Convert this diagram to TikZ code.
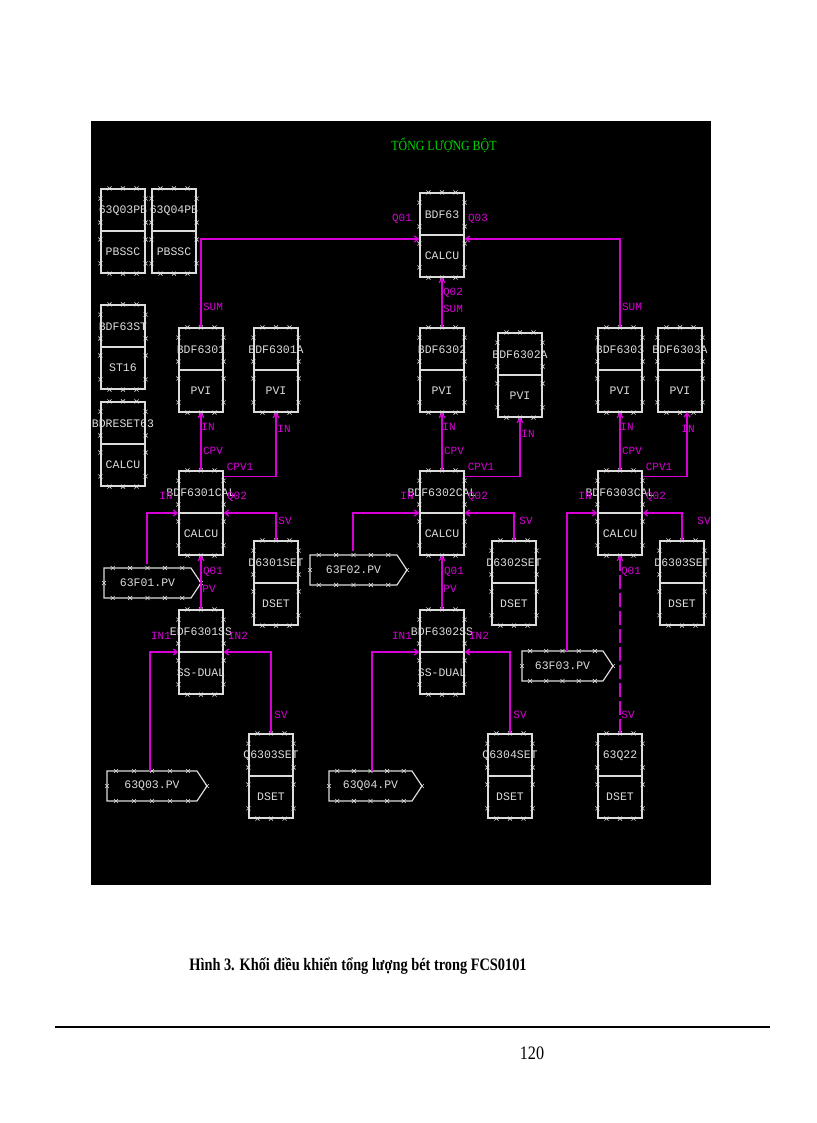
\documentclass[tikz,border=0pt]{standalone}
\usepackage{fontspec}
\setmainfont{Liberation Serif}
\newfontfamily\dmono{Liberation Mono}
\usetikzlibrary{calc,arrows.meta}
\definecolor{mag}{RGB}{215,0,215}
\definecolor{wgray}{RGB}{220,220,220}
\definecolor{tgreen}{RGB}{0,215,0}
\tikzset{
 blk/.style={draw=wgray,line width=1.2pt,minimum width=44pt,minimum height=84pt,inner sep=0pt},
 div/.style={draw=wgray,line width=1.2pt},
 btxt/.style={text=wgray,font=\dmono\fontsize{11.5}{12}\selectfont,inner sep=0pt},
 xm/.style={draw=wgray,line width=0.6pt},
 lbl/.style={text=mag,font=\dmono\fontsize{11}{12}\selectfont,inner sep=0pt},
 wire/.style={draw=mag,line width=1.3pt},
 arr/.style={wire,-{Straight Barb[length=4pt,width=6pt]}},
}
\newcommand\xm[1]{\draw[xm] (#1) +(-2,-2) -- +(2,2) +(-2,2) -- +(2,-2);}
\newcommand\blk[5]{%
 \node[blk] (#1) at (#2+22,#3+42) {};
 \draw[div] (#1.west)--(#1.east);
 \node[btxt] at (#2+22,#3+22) {#4};
 \node[btxt] at (#2+22,#3+63) {#5};
 \foreach \f in {0.2,0.5,0.8}{\xm{$(#1.north west)!\f!(#1.north east)$}\xm{$(#1.south west)!\f!(#1.south east)$}}
 \foreach \f in {0.12,0.4,0.6,0.88}{\xm{$(#1.north west)!\f!(#1.south west)$}\xm{$(#1.north east)!\f!(#1.south east)$}}
}
\newcommand\pent[5]{%
 \node[btxt] (#1) at ({(#2+#4)/2},#3+15) {#5};
 \draw[wgray,line width=1.2pt] (#2,#3) -- (#4,#3) -- (#4+10,#3+15) -- (#4,#3+30) -- (#2,#3+30) -- cycle;
 \foreach \f in {0.1,0.3,0.5,0.7,0.9}{\xm{$(#2,#3)!\f!(#4,#3)$}\xm{$(#2,#3+30)!\f!(#4,#3+30)$}}
 \xm{#2,#3+15}\xm{#4+10,#3+15}
}
\begin{document}
\begin{tikzpicture}[x=1pt,y=-1pt]
\useasboundingbox (0,0) rectangle (816,1123);
\fill[white] (0,0) rectangle (816,1123);
\fill[black] (91,121) rectangle (711,885);
\node[text=tgreen,font=\fontsize{14}{16}\selectfont,inner sep=0pt] (title) at (444,145) {\addfontfeature{FakeStretch=0.85}TỔNG LƯỢNG BỘT};

\blk{pb3}{101}{189}{63Q03PB}{PBSSC}
\blk{pb4}{152}{189}{63Q04PB}{PBSSC}
\blk{st}{101}{305}{BDF63ST}{ST16}
\blk{rs}{101}{402}{BDRESET63}{CALCU}
\blk{b63}{420}{193}{BDF63}{CALCU}
\blk{p1}{179}{328}{BDF6301}{PVI}
\blk{p1a}{254}{328}{BDF6301A}{PVI}
\blk{p2}{420}{328}{BDF6302}{PVI}
\blk{p2a}{498}{333}{BDF6302A}{PVI}
\blk{p3}{598}{328}{BDF6303}{PVI}
\blk{p3a}{658}{328}{BDF6303A}{PVI}
\blk{c1}{179}{471}{BDF6301CAL}{CALCU}
\blk{c2}{420}{471}{BDF6302CAL}{CALCU}
\blk{c3}{598}{471}{BDF6303CAL}{CALCU}
\blk{d1}{254}{541}{D6301SET}{DSET}
\blk{d2}{492}{541}{D6302SET}{DSET}
\blk{d3}{660}{541}{D6303SET}{DSET}
\blk{s1}{179}{610}{EDF6301SS}{SS-DUAL}
\blk{s2}{420}{610}{BDF6302SS}{SS-DUAL}
\blk{q3}{249}{734}{Q6303SET}{DSET}
\blk{q4}{488}{734}{Q6304SET}{DSET}
\blk{q22}{598}{734}{63Q22}{DSET}

\pent{f1}{104}{568}{191}{63F01.PV}
\pent{f2}{310}{555}{397}{63F02.PV}
\pent{f3}{522}{651}{603}{63F03.PV}
\pent{g3}{107}{771}{197}{63Q03.PV}
\pent{g4}{329}{771}{412}{63Q04.PV}

\draw[arr] (p1.north) |- (b63.west|-0,239);
\draw[arr] (p3.north) |- (b63.east|-0,239);
\draw[arr] (p2.north) -- (b63.south);
\node[lbl] at (213,307) {SUM}; \node[lbl] at (402,219) {Q01};
\node[lbl] at (632,307) {SUM}; \node[lbl] at (478,219) {Q03};
\node[lbl] at (453,293) {Q02}; \node[lbl] at (453,309) {SUM};

\foreach \c/\p/\pa/\d/\s/\f/\fx/\q in {1/p1/p1a/d1/s1/f1/147/q3, 2/p2/p2a/d2/s2/f2/353/q4}{
 \draw[arr] (c\c.north) -- (\p.south);
 \draw[arr] (c\c.north east) ++(0,6) -| (\pa.south);
 \draw[arr] (\fx,0|-\f.north) ++(0,-15) |- (c\c.west);
 \draw[arr] (\d.north) |- (c\c.east);
 \draw[arr] (\s.north) -- (c\c.south);
 \draw[arr] (\q.north) |- (\s.east);
}
\draw[arr] (150,771) |- (s1.west);
\draw[arr] (372,771) |- (s2.west);
\draw[arr] (c3.north) -- (p3.south);
\draw[arr] (c3.north east) ++(0,6) -| (687,412);
\draw[arr] (567,651) |- (c3.west);
\draw[arr] (d3.north) |- (c3.east);
\draw[arr,dash pattern=on 14pt off 4pt] (q22.north) -- (c3.south);

\foreach \dx in {0,241,419}{
 \node[lbl] at (208+\dx,427) {IN};
 \node[lbl] at (213+\dx,451) {CPV};
 \node[lbl] at (240+\dx,467) {CPV1};
 \node[lbl] at (166+\dx,496) {IN};
 \node[lbl] at (237+\dx,497) {Q02};
 \node[lbl] at (285+\dx,521) {SV};
}
\node[lbl] at (284,429) {IN}; \node[lbl] at (528,434) {IN}; \node[lbl] at (688,429) {IN};
\node[lbl] at (213,572) {Q01}; \node[lbl] at (209,589) {PV};
\node[lbl] at (454,572) {Q01}; \node[lbl] at (450,589) {PV};
\node[lbl] at (631,572) {Q01};
\node[lbl] at (161,636) {IN1}; \node[lbl] at (238,636) {IN2};
\node[lbl] at (402,636) {IN1}; \node[lbl] at (479,636) {IN2};
\node[lbl] at (281,715) {SV}; \node[lbl] at (520,715) {SV}; \node[lbl] at (628,715) {SV};

\node[font=\bfseries\fontsize{17.5}{20}\selectfont,inner sep=0pt] (cap) at (358,966) {\addfontfeature{FakeStretch=0.82}Hình 3. Khối điều khiển tổng lượng bét trong FCS0101};
\draw[line width=2.5pt] (55,1027) -- (770,1027);
\node[font=\fontsize{19}{21}\selectfont,inner sep=0pt] (pg) at (532,1053) {\addfontfeature{FakeStretch=0.85}120};
\end{tikzpicture}
\end{document}
